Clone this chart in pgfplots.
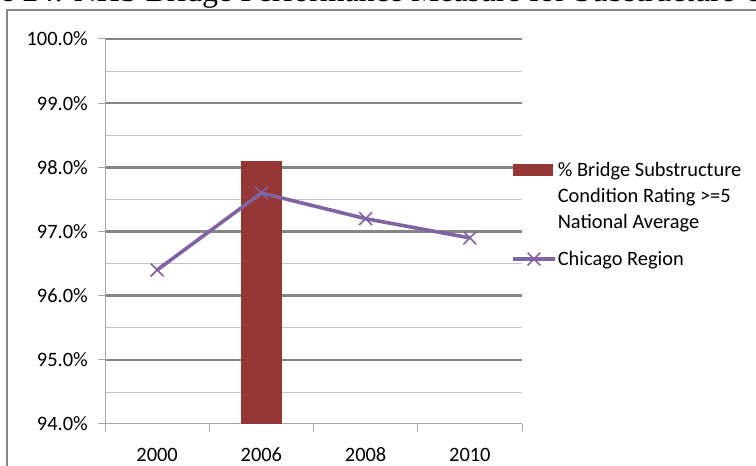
\documentclass[border=0pt]{standalone}
\usepackage{fontspec}
\setmainfont{Carlito}
\newfontfamily\titlefont{Liberation Serif}
\usepackage{pgfplots}
\pgfplotsset{compat=1.18}

\definecolor{barred}{HTML}{953735}
\definecolor{linepurple}{HTML}{8064A2}
\definecolor{majorgray}{HTML}{868686}
\definecolor{minorgray}{HTML}{C4C4C4}
\definecolor{axisgray}{HTML}{A6A6A6}
\definecolor{framegray}{HTML}{868686}

\pgfplotsset{
  % swatch sits beside the first of three text lines; the invisible path keeps its box centred
  bar legend/.style={legend image code/.code={%
    \path[fill=none, draw=none] (0bp,-34bp) rectangle (40bp,34bp);
    \fill[barred] (0bp,20bp) rectangle (40bp,32bp);}},
  line legend wide/.style={legend image code/.code={\draw[mark repeat=2, mark phase=2, ##1]
    plot coordinates {(0bp,0bp) (21bp,0bp) (42bp,0bp)};}},
}

\begin{document}
\begin{tikzpicture}[x=1bp,y=1bp]
\clip (0,0) rectangle (756,466);
% caption line above the chart frame
\node[anchor=base west, inner sep=0pt, font=\titlefont\fontsize{32}{38}\selectfont]
  at (-69,464) {Figure 24: NHS Bridge Performance Measure for Substructure Condition};
% chart frame
\draw[framegray, line width=1.5bp] (7,-30) rectangle (800,456);

\begin{axis}[
  at={(105bp,42bp)}, anchor=south west,
  scale only axis, width=417bp, height=385bp,
  xmin=-0.5, xmax=3.5, ymin=94, ymax=100,
  font=\fontsize{20.5}{26}\selectfont,
  /pgf/number format/assume math mode=true,
  typeset ticklabels with strut,
  axis lines*=left,
  axis line style={-, draw=axisgray, line width=1bp},
  tick align=outside,
  major tick length=7bp,
  xtick={0,1,2,3},
  xticklabels={2000,2006,2008,2010},
  major x tick style={draw=none},
  extra x ticks={-0.5,0.5,1.5,2.5,3.5},
  extra x tick labels={},
  extra x tick style={major x tick style={draw=axisgray, line width=1bp}},
  xticklabel style={inner sep=0pt, yshift=-12bp},
  ytick={95,96,97,98,99,100},
  extra y ticks={94},
  extra y tick style={grid=none},
  minor ytick={94.5,95.5,96.5,97.5,98.5,99.5},
  minor tick length=0pt,
  ymajorgrids, yminorgrids,
  major grid style={draw=majorgray, line width=2.4bp},
  minor grid style={draw=minorgray, line width=0.8bp},
  every tick/.style={draw=axisgray, line width=1bp},
  yticklabel={\pgfmathprintnumber[fixed,fixed zerofill,precision=1]{\tick}\%},
  yticklabel style={inner sep=0pt, xshift=-10bp},
  legend style={at={(0.9736,0.6805)}, anchor=north west, draw=none, fill=none,
    inner sep=0pt, row sep=21bp, column sep=1bp,
    nodes={inner sep=0pt},
    font=\fontsize{20.5}{26}\selectfont},
  legend cell align=left,
]
% national average (single year)
\addplot[ybar, bar width=41bp, fill=barred, draw=none, bar legend]
  coordinates {(1,98.1)};
\addlegendentry[align=left]{\% Bridge Substructure\\Condition Rating >=5\\National Average}
% Chicago region series
\addplot[linepurple, line width=3.6bp, mark=x, mark size=9bp,
  mark options={line width=1.6bp, solid}, line legend wide]
  coordinates {(0,96.4) (1,97.6) (2,97.2) (3,96.9)};
\addlegendentry{Chicago Region}
\end{axis}
\end{tikzpicture}
\end{document}
